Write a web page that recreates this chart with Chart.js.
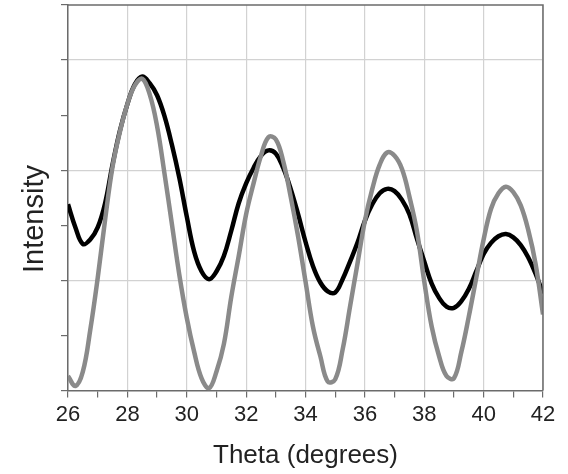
<!DOCTYPE html>
<html>
<head>
<meta charset="utf-8">
<script src="https://cdn.jsdelivr.net/npm/chart.js@4/dist/chart.umd.min.js"></script>
<style>
  html, body { margin: 0; padding: 0; background: #fff; }
  #wrap { width: 568px; height: 474px; }
</style>
</head>
<body>
<div id="wrap"><canvas id="chart"></canvas></div>
<script>
  // theta values (degrees), every 0.25
  var theta = [];
  for (var i = 0; i <= 64; i++) theta.push(26 + i * 0.25);

  // black curve (arbitrary units)
  var blackCurve = [
    169, 148, 133, 137, 148, 170, 205, 236, 260, 278, 285, 279, 268, 249, 223, 193,
    158, 126, 108, 101, 108, 122, 145, 170, 188, 202, 213, 218, 215, 202, 183, 160,
    135, 113, 98, 90, 89, 101, 117, 134, 154, 169, 179, 183, 181, 173, 160, 138,
    117, 97, 84, 76, 75, 81, 92, 108, 124, 134, 140, 142, 139, 132, 121, 106,
    88
  ];

  // gray curve
  var grayCurve = [
    13, 4, 17, 55, 102, 155, 203, 235, 260, 277, 283, 269, 240, 197, 151, 105,
    66, 35, 11, 2, 17, 42, 85, 122, 160, 188, 213, 230, 228, 208, 176, 140,
    99, 58, 31, 8, 10, 37, 76, 115, 154, 183, 205, 216, 213, 201, 176, 145,
    99, 58, 31, 13, 11, 35, 67, 102, 137, 165, 179, 185, 180, 168, 146, 115,
    69
  ];

  var xMin = 26, xMax = 42;
  var yMin = 0, yMax = 350;
  var yTitle = 'Intensity';

  function toPoints(ys) {
    return ys.map(function (v, k) { return { x: theta[k], y: v }; });
  }

  var font = "'Liberation Sans', Arial, sans-serif";

  // frame on top and right of the plot + y axis title (sits a bit below centre)
  var frameBox = {
    id: 'frameBox',
    afterDraw: function (chart) {
      var a = chart.chartArea, c = chart.ctx;
      c.save();
      c.strokeStyle = '#6b6b6b';
      c.lineWidth = 1.5;
      c.beginPath();
      c.moveTo(a.left, a.top);
      c.lineTo(a.right, a.top);
      c.lineTo(a.right, a.bottom);
      c.stroke();

      c.translate(35, 219);
      c.rotate(-Math.PI / 2);
      c.fillStyle = '#222';
      c.font = "29px " + font;
      c.textAlign = 'center';
      c.textBaseline = 'middle';
      c.fillText(yTitle, 0, 0);
      c.restore();
    }
  };

  new Chart(document.getElementById('chart'), {
    type: 'line',
    data: {
      datasets: [
        {
          label: 'gray',
          data: toPoints(grayCurve),
          borderColor: '#8a8a8a',
          borderWidth: 4.5,
          pointRadius: 0,
          tension: 0.4,
          fill: false
        },
        {
          label: 'black',
          data: toPoints(blackCurve),
          borderColor: '#000000',
          borderWidth: 4.5,
          pointRadius: 0,
          tension: 0.4,
          fill: false
        }
      ]
    },
    options: {
      responsive: true,
      maintainAspectRatio: false,
      animation: false,
      layout: { padding: { left: 61, right: 25, top: 5, bottom: 3 } },
      plugins: { legend: { display: false }, tooltip: { enabled: false } },
      scales: {
        x: {
          type: 'linear',
          min: xMin,
          max: xMax,
          border: { color: '#6b6b6b', width: 1.5 },
          grid: {
            color: function (ctx) {
              var v = ctx.tick ? ctx.tick.value : 0;
              return (v % 2 === 0) ? '#d2d2d2' : 'rgba(0,0,0,0)';
            },
            tickColor: '#6b6b6b',
            tickLength: 7,
            lineWidth: 1.2
          },
          ticks: {
            stepSize: 1,
            autoSkip: false,
            maxRotation: 0,
            color: '#222',
            font: { family: font, size: 22 },
            padding: 4,
            callback: function (v) { return (v % 2 === 0) ? String(v) : ''; }
          },
          title: {
            display: true,
            text: 'Theta (degrees)',
            color: '#222',
            font: { family: font, size: 26 },
            padding: { top: 8, bottom: 0 }
          }
        },
        y: {
          min: yMin,
          max: yMax,
          border: { color: '#6b6b6b', width: 1.5 },
          grid: {
            color: function (ctx) {
              var v = ctx.tick ? ctx.tick.value : 0;
              return (v % 100 === 0 && v > 0) ? '#d2d2d2' : 'rgba(0,0,0,0)';
            },
            tickColor: '#6b6b6b',
            tickLength: 7,
            lineWidth: 1.2
          },
          ticks: { stepSize: 50, display: false },
          title: { display: false }
        }
      }
    },
    plugins: [frameBox]
  });
</script>
</body>
</html>
